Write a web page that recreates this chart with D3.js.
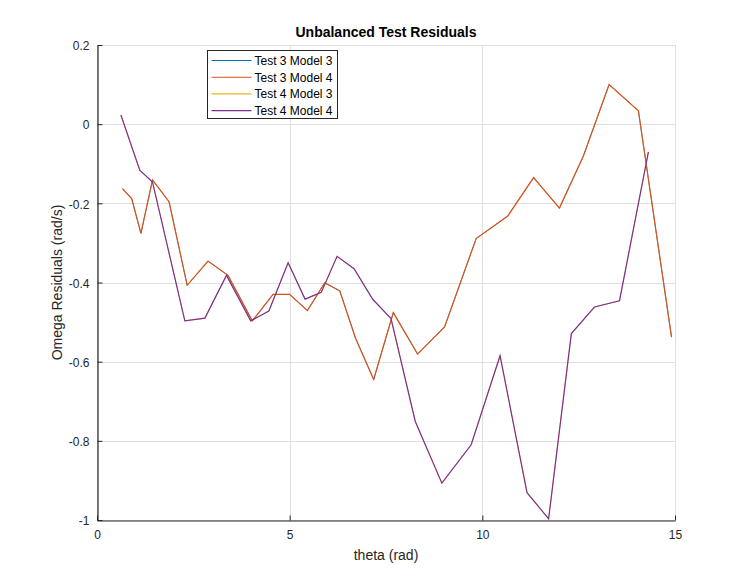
<!DOCTYPE html>
<html>
<head>
<meta charset="utf-8">
<script src="https://cdn.jsdelivr.net/npm/d3@7"></script>
<style>
  body { margin: 0; background: #fff; }
  svg { font-family: "Liberation Sans", Arial, Helvetica, sans-serif; }
</style>
</head>
<body>
<div id="chart"></div>
<script>
// data
var theta3 = [0.66, 0.90, 1.14, 1.44, 1.87, 2.34, 2.88, 3.40, 4.03, 4.57, 5.00, 5.46, 5.91, 6.30,
              6.71, 7.18, 7.69, 8.32, 9.02, 9.84, 10.66, 11.33, 12.00, 12.62, 13.29, 14.05, 14.91];
var test3 = [-0.163, -0.188, -0.276, -0.141, -0.196, -0.407, -0.346, -0.382, -0.497, -0.430, -0.430, -0.471, -0.401, -0.421,
             -0.541, -0.645, -0.476, -0.581, -0.512, -0.289, -0.232, -0.135, -0.212, -0.081, 0.100, 0.034, -0.538];
var theta4 = [0.62, 1.11, 1.44, 2.28, 2.80, 3.36, 3.99, 4.46, 4.96, 5.40, 5.82, 6.23, 6.67, 7.16,
              7.63, 8.26, 8.95, 9.71, 10.46, 11.16, 11.72, 12.31, 12.91, 13.56, 14.31];
var test4 = [0.023, -0.116, -0.146, -0.497, -0.490, -0.382, -0.497, -0.472, -0.350, -0.442, -0.425, -0.334, -0.365, -0.443,
             -0.491, -0.751, -0.907, -0.810, -0.585, -0.931, -0.997, -0.529, -0.462, -0.446, -0.070];
// model 3 and model 4 give the same residuals here (the lines sit on top of each other)
var seriesNames = ["Test 3 Model 3", "Test 3 Model 4", "Test 4 Model 3", "Test 4 Model 4"];
var seriesColors = ["#0072BD", "#D95319", "#EDB120", "#7E2F8E"];
var xTicks = [0, 5, 10, 15];
var yTicks = [0.2, 0, -0.2, -0.4, -0.6, -0.8, -1];

var W = 748, H = 585;
var m = {left: 97, right: 73, top: 45, bottom: 65};

var svg = d3.select('#chart').append('svg')
    .attr('width', W)
    .attr('height', H);

var x = d3.scaleLinear().domain([0, 15]).range([m.left, W - m.right]);
var y = d3.scaleLinear().domain([-1, 0.2]).range([H - m.bottom, m.top]);

//Grid lines
var grid = svg.append('g').attr('stroke', '#dfdfdf').attr('stroke-width', 1);
xTicks.forEach(function(t){
    grid.append('line')
        .attr('x1', Math.round(x(t)) + 0.5).attr('x2', Math.round(x(t)) + 0.5)
        .attr('y1', y(0.2)).attr('y2', y(-1));
});
yTicks.forEach(function(t){
    grid.append('line')
        .attr('x1', x(0)).attr('x2', x(15))
        .attr('y1', Math.round(y(t)) + 0.5).attr('y2', Math.round(y(t)) + 0.5);
});

//Series lines (model 3 drawn thinner so model 4 covers it fully)
var seriesData = [
     {t: theta3, v: test3, w: 0.7}
    ,{t: theta3, v: test3, w: 1.2}
    ,{t: theta4, v: test4, w: 0.7}
    ,{t: theta4, v: test4, w: 1.2}
];
var line = d3.line()
    .x(function(d){ return x(d[0]); })
    .y(function(d){ return y(d[1]); });

seriesData.forEach(function(s, i){
    var pts = s.t.map(function(t, j){ return [t, s.v[j]]; });
    svg.append('path')
        .datum(pts)
        .attr('d', line)
        .attr('fill', 'none')
        .attr('stroke', seriesColors[i])
        .attr('stroke-width', s.w);
});

//Axes (ticks point inward, no box)
var fmt = function(d){ return String(d); };
var xAxis = d3.axisBottom(x).tickValues(xTicks).tickSizeInner(-5).tickSizeOuter(0).tickPadding(10).tickFormat(fmt);
var yAxis = d3.axisLeft(y).tickValues(yTicks).tickSizeInner(-5).tickSizeOuter(0).tickPadding(8).tickFormat(fmt);

var gx = svg.append('g')
    .attr('transform', 'translate(0,' + (H - m.bottom + 0.5) + ')')
    .call(xAxis);
var gy = svg.append('g')
    .attr('transform', 'translate(' + (m.left + 0.5) + ',0)')
    .call(yAxis);

[gx, gy].forEach(function(g){
    g.select('.domain').attr('stroke', '#262626').attr('stroke-width', 1.2);
    g.selectAll('.tick line').attr('stroke', '#262626');
    g.selectAll('.tick text')
        .attr('fill', '#262626')
        .style('font-size', '12px')
        .style('font-family', '"Liberation Sans", Arial, sans-serif');
});
gy.selectAll('.tick text').attr('dy', '0.4em');

//Title and labels
svg.append('text')
    .attr('x', (x(0) + x(15)) / 2)
    .attr('y', 37)
    .attr('text-anchor', 'middle')
    .attr('font-size', '14px')
    .attr('font-weight', 'bold')
    .attr('fill', '#000')
    .text('Unbalanced Test Residuals');

svg.append('text')
    .attr('x', (x(0) + x(15)) / 2)
    .attr('y', 560)
    .attr('text-anchor', 'middle')
    .attr('font-size', '14px')
    .attr('fill', '#262626')
    .text('theta (rad)');

svg.append('text')
    .attr('transform', 'translate(62,' + ((y(0.2) + y(-1)) / 2) + ') rotate(-90)')
    .attr('text-anchor', 'middle')
    .attr('font-size', '14px')
    .attr('fill', '#262626')
    .text('Omega Residuals (rad/s)');

//Legend
var lg = svg.append('g').attr('transform', 'translate(207.5,50.5)');
lg.append('rect')
    .attr('width', 130)
    .attr('height', 68)
    .attr('fill', '#fff')
    .attr('stroke', '#262626')
    .attr('stroke-width', 1);

seriesNames.forEach(function(name, i){
    var yy = 10 + i * 16.7;
    lg.append('line')
        .attr('x1', 4).attr('x2', 44)
        .attr('y1', yy).attr('y2', yy)
        .attr('stroke', seriesColors[i])
        .attr('stroke-width', 1.1);
    lg.append('text')
        .attr('x', 47)
        .attr('y', yy + 4.5)
        .attr('font-size', '12px')
        .attr('fill', '#000')
        .text(name);
});
</script>
</body>
</html>
